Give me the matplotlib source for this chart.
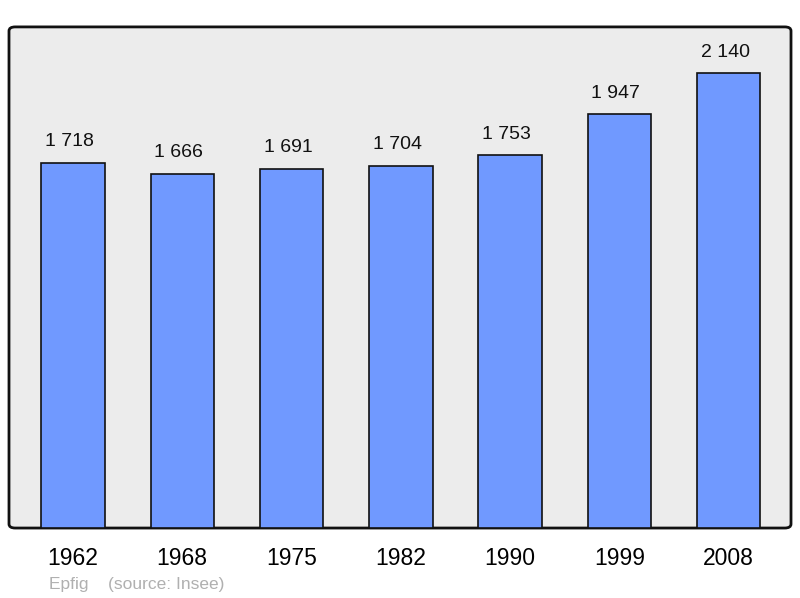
import matplotlib.pyplot as plt
from matplotlib.patches import FancyBboxPatch

plt.rcParams['font.family'] = ['Liberation Sans', 'DejaVu Sans']

years = ["1962", "1968", "1975", "1982", "1990", "1999", "2008"]
population = [1718, 1666, 1691, 1704, 1753, 1947, 2140]
value_labels = ["1 718", "1 666", "1 691", "1 704", "1 753", "1 947", "2 140"]

fig = plt.figure(figsize=(8, 5.98), dpi=100)
ax = fig.add_axes([0.01125, 0.117, 0.9775, 0.838])
ax.set_facecolor("none")

# rounded frame behind the bars
frame = FancyBboxPatch((0, 0), 1, 1, boxstyle="round,pad=0,rounding_size=0.008",
                       transform=ax.transAxes, facecolor="#ececec",
                       edgecolor="#111111", linewidth=2, zorder=0, clip_on=False)
ax.add_patch(frame)

x = list(range(len(years)))
bars = ax.bar(x, population, width=0.58, color="#7099ff",
              edgecolor="#111111", linewidth=1.2, zorder=2)

for xi, v, lab in zip(x, population, value_labels):
    ax.annotate(lab, (xi, v), xytext=(-2.5, 9), textcoords="offset points",
                ha="center", va="bottom", fontsize=14, color="#111111")

ax.set_xlim(-0.585, 6.57)
ax.set_ylim(0, 2358)
ax.set_yticks([])
ax.set_xticks(x)
ax.set_xticklabels(years, fontsize=16.5)
ax.tick_params(axis="x", length=0, pad=14)
for s in ax.spines.values():
    s.set_visible(False)

fig.text(49 / 800, 1 - 585 / 598, "Epfig    (source: Insee)", fontsize=12.5,
         color="#b0b0b0", ha="left", va="center")

fig.savefig("out.png", dpi=100)
